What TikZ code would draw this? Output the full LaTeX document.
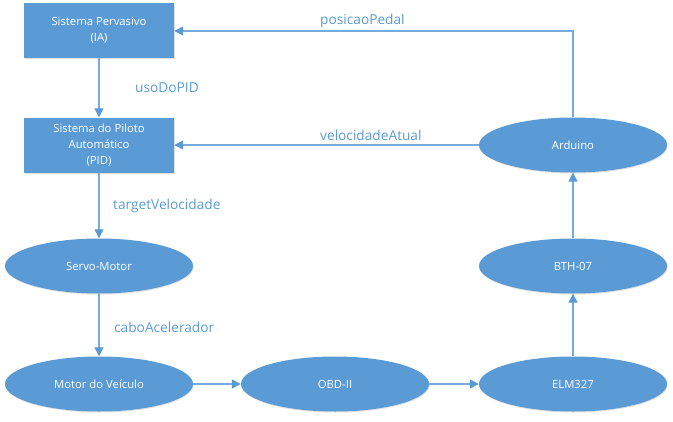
\documentclass[tikz,border=0pt]{standalone}
\usepackage{fontspec}
\setmainfont{Open Sans}
\usetikzlibrary{arrows.meta,shapes.geometric,shadows}
\definecolor{nodeblue}{RGB}{91,155,213}
\definecolor{lineblue}{RGB}{120,170,222}
\begin{document}
\begin{tikzpicture}[x=1pt,y=-1pt,
  base/.style={fill=nodeblue,draw=none,text=white,font=\fontsize{11.3}{16}\selectfont,align=center,
     drop shadow={opacity=0.25,shadow xshift=0.6pt,shadow yshift=-1pt}},
  boxnode/.style={base,rectangle,minimum width=150pt,minimum height=55pt,inner sep=0pt},
  ellnode/.style={base,ellipse,minimum width=188pt,minimum height=55pt,inner sep=0pt},
  conn/.style={draw=lineblue,line width=1.3pt,-{Triangle[length=9pt,width=9pt,fill=nodeblue,color=nodeblue]}},
  lbl/.style={text=nodeblue,font=\fontsize{13.7}{16}\selectfont,anchor=west,inner sep=0pt}]
\useasboundingbox (0,0) rectangle (673,421);
\node[boxnode] (ia) at (99,30.5) {Sistema Pervasivo\\(IA)};
\node[boxnode] (pid) at (99,145) {Sistema do Piloto\\Automático\\(PID)};
\node[ellnode] (servo) at (99,266) {Servo-Motor};
\node[ellnode] (motor) at (99,384) {Motor do Veículo};
\node[ellnode] (obd) at (335,384) {OBD-II};
\node[ellnode] (elm) at (573,384) {ELM327};
\node[ellnode] (bth) at (573,266) {BTH-07};
\node[ellnode] (ard) at (573,145) {Arduino};
\coordinate (corner) at (573,31);
\draw[conn] (ia) -- (pid);
\draw[conn] (pid) -- (servo);
\draw[conn] (servo) -- (motor);
\draw[conn] (motor) -- (obd);
\draw[conn] (obd) -- (elm);
\draw[conn] (elm) -- (bth);
\draw[conn] (bth) -- (ard);
\draw[conn] (ard) -- (pid);
\draw[conn] (ard.north) -- (corner) -- (ia.east |- corner);
\node[lbl] (l1) at (135,88) {usoDoPID};
\node[lbl] (l2) at (113,206) {targetVelocidade};
\node[lbl] (l3) at (114,327) {caboAcelerador};
\node[lbl] (l4) at (320,21) {posicaoPedal};
\node[lbl] (l5) at (320,135) {velocidadeAtual};
\end{tikzpicture}
\end{document}
